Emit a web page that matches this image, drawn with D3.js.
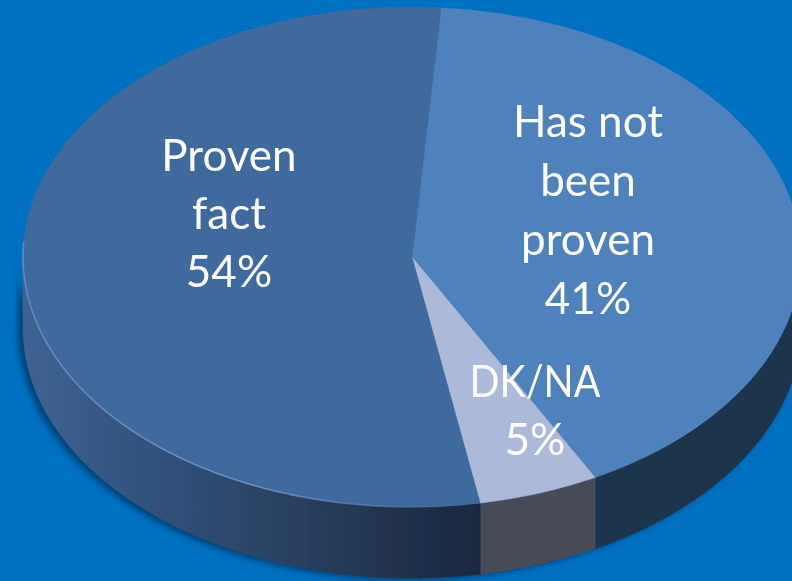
<!DOCTYPE html>
<html>
<head>
<meta charset="utf-8">
<script src="https://cdn.jsdelivr.net/npm/d3@7/dist/d3.min.js"></script>
<style>
html,body{margin:0;padding:0;background:#0070c0;overflow:hidden}
svg{display:block}
text{font-family:Lato,"Open Sans",sans-serif;fill:#fff;text-anchor:middle}
</style>
</head>
<body>
<script>
const categories = ["Has not been proven", "DK/NA", "Proven fact"];
const values = [41, 5, 54];
const topColors = ["#4f81bd", "#adb9d9", "#41699d"];
const wallColors = ["#1f344e", "#474c58", "url(#wallGrad)"];
const labelLines = [
  ["Has not", "been", "proven", "41%"],
  ["DK/NA", "5%"],
  ["Proven", "fact", "54%"]
];

const W = 792, H = 581;
const cx = 412, cy = 257, rx = 389, ry = 250, depth = 71;
const rotation = 4.3 * Math.PI / 180;
const labelPos = [
  {x: 588, y: 137, dy: 59},
  {x: 535, y: 397, dy: 58},
  {x: 229, y: 171, dy: 58}
];

const svg = d3.select("body").append("svg").attr("width", W).attr("height", H);
svg.append("rect").attr("width", W).attr("height", H).attr("fill", "#0070c0");

const defs = svg.append("defs");
const grad = defs.append("linearGradient").attr("id", "wallGrad")
  .attr("gradientUnits", "userSpaceOnUse").attr("x1", 23).attr("x2", 480).attr("y1", 0).attr("y2", 0);
[[0, "#3f6393"], [0.25, "#33537f"], [0.6, "#29405f"], [0.85, "#1f3049"], [1, "#1a2840"]]
  .forEach(s => grad.append("stop").attr("offset", s[0]).attr("stop-color", s[1]));
const rimGrad = defs.append("linearGradient").attr("id", "rimGrad")
  .attr("gradientUnits", "userSpaceOnUse").attr("x1", 23).attr("x2", 480).attr("y1", 0).attr("y2", 0);
[[0, "#7398cf", 0.7], [0.5, "#7d9ed0", 0.75], [1, "#7d9ed0", 0]]
  .forEach(s => rimGrad.append("stop").attr("offset", s[0]).attr("stop-color", s[1]).attr("stop-opacity", s[2]));
defs.append("filter").attr("id", "shadow").attr("x", "-10%").attr("y", "-10%").attr("width", "120%").attr("height", "120%")
  .append("feGaussianBlur").attr("stdDeviation", 3);
defs.append("filter").attr("id", "soft").attr("x", "-5%").attr("y", "-5%").attr("width", "110%").attr("height", "110%")
  .append("feGaussianBlur").attr("stdDeviation", 0.5);

const pie = d3.pie().sort(null).startAngle(rotation).endAngle(rotation + 2 * Math.PI);
const arcs = pie(values);

const px = d3.scaleLinear().domain([-1, 1]).range([cx - rx, cx + rx]);
const py = d3.scaleLinear().domain([-1, 1]).range([cy - ry, cy + ry]);

function wallAngles(a, extra = 0) {
  const lo = Math.max(a.startAngle, Math.PI / 2), hi = Math.min(a.endAngle, 1.5 * Math.PI + extra);
  if (hi <= lo) return [];
  const n = Math.ceil((hi - lo) / 0.01);
  return d3.range(n + 1).map(i => lo + (hi - lo) * i / n);
}
const wallArea = d3.area()
  .x(t => px(Math.sin(t)))
  .y0(t => py(-Math.cos(t)))
  .y1(t => py(-Math.cos(t)) + depth);

// soft shadow behind the pie's side
const shadowOffset = [-5, 2];
svg.append("g").attr("transform", `translate(${shadowOffset})`).attr("filter", "url(#shadow)")
  .selectAll("path").data(arcs).join("path")
  .attr("d", d => wallArea(wallAngles(d)))
  .attr("fill", "#003f75");

const pieGroup = svg.append("g").attr("filter", "url(#soft)");

// side walls
pieGroup.append("g").selectAll("path").data(arcs).join("path")
  .attr("d", d => wallArea(wallAngles(d)))
  .attr("fill", (d, i) => wallColors[i])
  .attr("stroke", (d, i) => wallColors[i]).attr("stroke-width", 0.4);

// top slices
const arc = d3.arc().innerRadius(0).outerRadius(rx);
const topFace = pieGroup.append("g").attr("transform", `translate(${cx},${cy}) scale(1,${ry / rx})`);
topFace.selectAll("path").data(arcs).join("path")
  .attr("d", arc)
  .attr("fill", (d, i) => topColors[i])
  .attr("stroke", (d, i) => topColors[i]).attr("stroke-width", 0.5);

// pale rim along the lower left of the largest slice
const rimLine = d3.line().x(t => px(Math.sin(t))).y(t => py(-Math.cos(t)));
pieGroup.append("path")
  .datum(wallAngles(arcs[2], 0.06))
  .attr("d", rimLine).attr("fill", "none")
  .attr("stroke", "url(#rimGrad)").attr("stroke-width", 1.6)
  .attr("stroke-linecap", "round");

// labels
const lab = svg.append("g").attr("font-size", 44).attr("filter", "url(#soft)");
labelLines.forEach((lines, i) => {
  lab.append("g").attr("aria-label", categories[i]).selectAll("text").data(lines).join("text")
    .attr("x", labelPos[i].x)
    .attr("y", (d, j) => labelPos[i].y + j * labelPos[i].dy)
    .attr("textLength", d => d === "DK/NA" ? 131 : null)
    .attr("lengthAdjust", d => d === "DK/NA" ? "spacingAndGlyphs" : null)
    .text(d => d);
});
</script>
</body>
</html>
